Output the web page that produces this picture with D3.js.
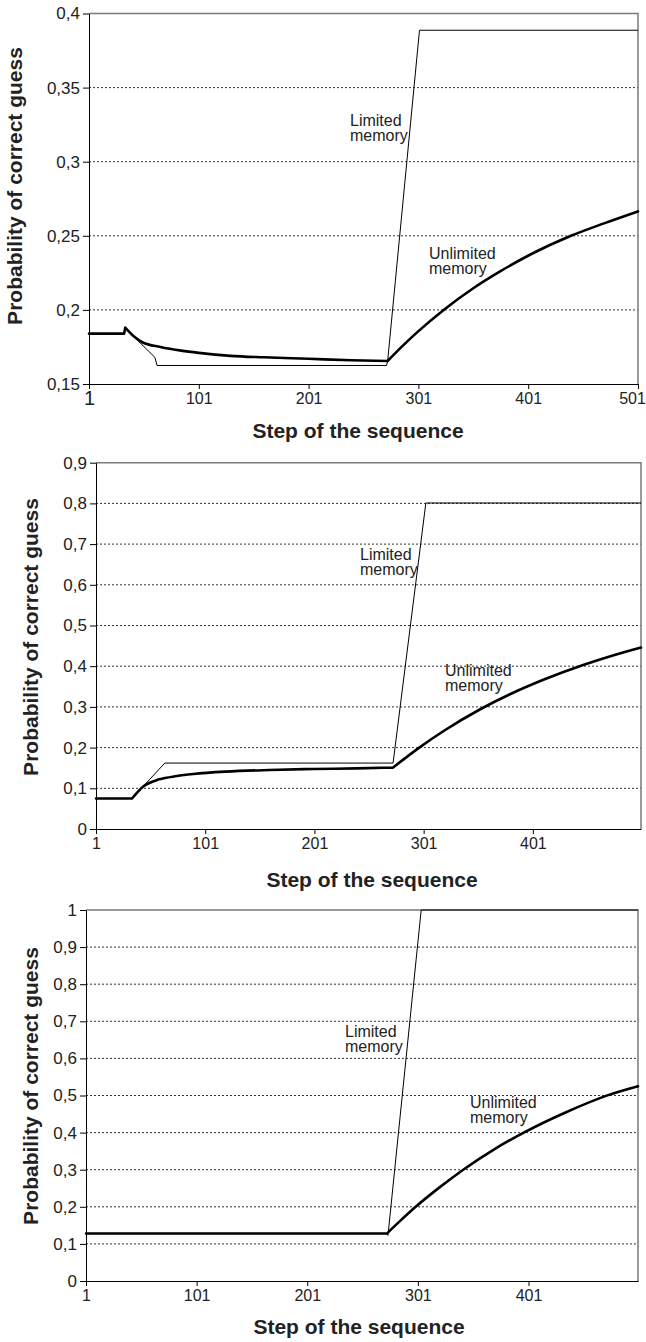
<!DOCTYPE html>
<html>
<head>
<meta charset="utf-8">
<script src="https://cdn.jsdelivr.net/npm/d3@7"></script>
<style>
  body { margin: 0; background: #fff; }
  svg { display: block; font-family: "Liberation Sans", Arial, sans-serif; }
</style>
</head>
<body>
<div id="chart"></div>
<script>
// ---- data: [step, probability] ----
var limited1   = [[1,0.184],[33,0.184],[33.5,0.188],[61,0.168],[63,0.1625],[272,0.1625],[273,0.1655],[302,0.3887],[501,0.3887]];
var unlimited1 = [[1,0.184],[33,0.184],[34,0.188],[42,0.182],[50,0.178],[66,0.175],[85,0.1725],[101,0.171],
                  [130,0.169],[160,0.168],[201,0.167],[240,0.166],[273,0.1655],[285,0.1745],[300,0.185],[324,0.2],
                  [350,0.2141],[375,0.2258],[400,0.2362],[440,0.25],[470,0.2584],[501,0.2665]];

var limited2   = [[1,0.075],[34,0.075],[64,0.162],[273,0.162],[303,0.801],[500,0.801]];
var unlimited2 = [[1,0.075],[34,0.075],[44,0.104],[59,0.122],[75,0.13],[90,0.135],[120,0.141],[160,0.145],
                  [200,0.1474],[240,0.149],[273,0.151],[285,0.176],[297,0.2],[320,0.242],[352,0.293],[380,0.331],
                  [410,0.366],[447,0.403],[475,0.427],[500,0.446]];

var limited3   = [[1,0.128],[273,0.128],[274,0.123],[304,1],[500,1]];
var unlimited3 = [[1,0.128],[273,0.128],[285,0.162],[299,0.2],[320,0.251],[342,0.3],[370,0.355],[398,0.402],
                  [435,0.455],[473,0.501],[500,0.525]];

// steps where the thick curve has a corner
var corners1 = [33, 34, 273];
var corners2 = [34, 273];
var corners3 = [273];

var yTicks1 = [0.15,0.2,0.25,0.3,0.35,0.4];
var yTicks2 = [0,0.1,0.2,0.3,0.4,0.5,0.6,0.7,0.8,0.9];
var yTicks3 = [0,0.1,0.2,0.3,0.4,0.5,0.6,0.7,0.8,0.9,1];
var xTicks1 = [1,101,201,301,401,501];
var xTicks23 = [1,101,201,301,401];

var xTitle = "Step of the sequence";
var yTitle = "Probability of correct guess";

// ---- layout ----
var width = 646, height = 1342;

var svg = d3.select("#chart").append("svg")
    .attr("width", width)
    .attr("height", height);

var panels = [
  {lim: limited1, unl: unlimited1, corners: corners1, yTicks: yTicks1, xTicks: xTicks1, xMax: 501,
   left: 89, right: 638, top: 13.5, bottom: 384,
   yTitleX: 22, yTitleY: 186, xTitleX: 358, xTitleY: 438,
   limLab: [350, 126], unlLab: [429, 259]},
  {lim: limited2, unl: unlimited2, corners: corners2, yTicks: yTicks2, xTicks: xTicks23, xMax: 500,
   left: 96, right: 641, top: 462.7, bottom: 829,
   yTitleX: 38, yTitleY: 637, xTitleX: 372, xTitleY: 887,
   limLab: [360, 560], unlLab: [445, 676]},
  {lim: limited3, unl: unlimited3, corners: corners3, yTicks: yTicks3, xTicks: xTicks23, xMax: 500,
   left: 86, right: 638, top: 910, bottom: 1281,
   yTitleX: 38, yTitleY: 1086, xTitleX: 359, xTitleY: 1334,
   limLab: [345, 1037], unlLab: [470, 1108]}
];

function fmt(d) { return String(+d.toFixed(2)).replace(".", ","); }

// cut a series into pieces at the corner steps (pieces share the corner point)
function splitAt(data, corners) {
  var pieces = [], cur = [];
  data.forEach(function(d) {
    cur.push(d);
    if (corners.indexOf(d[0]) >= 0) { pieces.push(cur); cur = [d]; }
  });
  if (cur.length > 1) pieces.push(cur);
  return pieces;
}

panels.forEach(function(p, pi) {
  var x = d3.scaleLinear().domain([1, p.xMax]).range([p.left, p.right]);
  var yMin = p.yTicks[0], yMax = p.yTicks[p.yTicks.length - 1];
  var y = d3.scaleLinear().domain([yMin, yMax]).range([p.bottom, p.top]);
  var g = svg.append("g");

  // dotted gridlines
  g.selectAll("line.grid")
    .data(p.yTicks.slice(1, -1))
    .enter().append("line")
      .attr("class", "grid")
      .attr("x1", p.left).attr("x2", p.right)
      .attr("y1", function(d) { return y(d); })
      .attr("y2", function(d) { return y(d); })
      .attr("stroke", "#333")
      .attr("stroke-width", 1)
      .attr("stroke-dasharray", "2,2");

  // grey top + right frame
  g.append("path")
    .attr("d", "M" + p.left + "," + y(yMax) + "H" + p.right + "V" + y(yMin))
    .attr("fill", "none")
    .attr("stroke", "#7a7a7a")
    .attr("stroke-width", 1.5);

  // axes
  var ya = g.append("g")
    .attr("transform", "translate(" + p.left + ",0)")
    .call(d3.axisLeft(y).tickValues(p.yTicks).tickFormat(fmt).tickSize(6).tickSizeOuter(0).tickPadding(3));
  ya.selectAll("text").attr("font-size", 17).attr("fill", "#222").attr("font-family", null);
  ya.selectAll("line, path").attr("stroke", "#000");

  var xa = g.append("g")
    .attr("transform", "translate(0," + p.bottom + ")")
    .call(d3.axisBottom(x).tickValues(p.xTicks).tickSize(5).tickSizeOuter(0).tickPadding(4));
  xa.selectAll("text").attr("font-size", 16).attr("fill", "#222").attr("font-family", null);
  xa.selectAll("line, path").attr("stroke", "#000");
  if (pi === 0) {
    // first label is printed larger, last one is pulled inside the page
    xa.selectAll("text").filter(function(d) { return d === 1; }).attr("font-size", 20).attr("dy", "0.62em");
    xa.selectAll("text").filter(function(d) { return d === 501; }).attr("dx", -6);
  }

  // series
  var line = d3.line()
    .x(function(d) { return x(d[0]); })
    .y(function(d) { return y(d[1]); });

  g.append("path")
    .datum(p.lim)
    .attr("d", line)
    .attr("fill", "none")
    .attr("stroke", "#000")
    .attr("stroke-width", 1);

  var curve = d3.line()
    .x(function(d) { return x(d[0]); })
    .y(function(d) { return y(d[1]); })
    .curve(d3.curveMonotoneX);

  g.append("path")
    .attr("d", splitAt(p.unl, p.corners).map(curve).join(""))
    .attr("fill", "none")
    .attr("stroke", "#000")
    .attr("stroke-width", 2.6)
    .attr("stroke-linejoin", "round")
    .attr("stroke-linecap", "round");

  // line labels
  [[p.limLab, "Limited"], [p.unlLab, "Unlimited"]].forEach(function(l) {
    var t = g.append("text")
      .attr("x", l[0][0]).attr("y", l[0][1])
      .attr("font-size", 16).attr("fill", "#222");
    t.append("tspan").attr("x", l[0][0]).text(l[1]);
    t.append("tspan").attr("x", l[0][0]).attr("dy", 15).text("memory");
  });

  // axis titles
  g.append("text")
    .attr("x", p.xTitleX).attr("y", p.xTitleY)
    .attr("text-anchor", "middle")
    .attr("font-size", 21).attr("font-weight", "bold").attr("fill", "#222")
    .text(xTitle);

  g.append("text")
    .attr("transform", "translate(" + p.yTitleX + "," + p.yTitleY + ") rotate(-90)")
    .attr("text-anchor", "middle")
    .attr("font-size", 21).attr("font-weight", "bold").attr("fill", "#222")
    .text(yTitle);
});
</script>
</body>
</html>
